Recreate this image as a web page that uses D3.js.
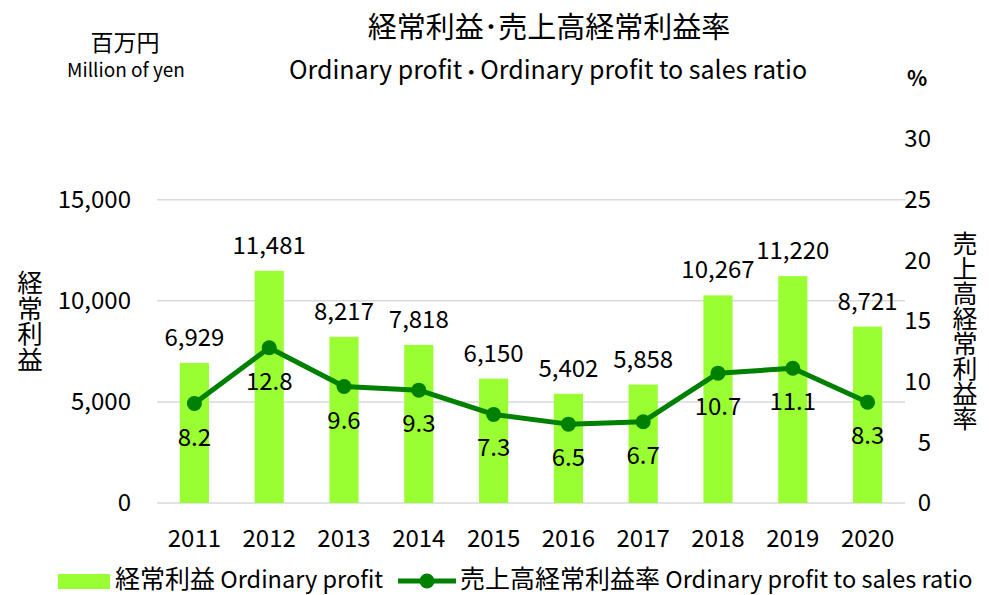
<!DOCTYPE html>
<html>
<head>
<meta charset="utf-8">
<script src="https://cdn.jsdelivr.net/npm/d3@7"></script>
<style>
  body { margin: 0; background: #fff; }
  svg text { font-family: "Noto Sans CJK JP", "Open Sans", sans-serif; fill: #000; }
</style>
</head>
<body>
<div id="chart"></div>
<script>
// data
var years = ['2011','2012','2013','2014','2015','2016','2017','2018','2019','2020']
var profit = [6929, 11481, 8217, 7818, 6150, 5402, 5858, 10267, 11220, 8721]
var ratio = [8.2, 12.8, 9.6, 9.3, 7.3, 6.5, 6.7, 10.7, 11.1, 8.3]
var leftTicks = [0, 5000, 10000, 15000]
var rightTicks = [0, 5, 10, 15, 20, 25, 30]

var W = 989, H = 595
var barClr = '#99ff33', lineClr = '#008000', gridClr = '#d9d9d9'
var numSize = '24px'

var svg = d3.select('#chart').append('svg')
  .attr('width', W).attr('height', H)

var x = d3.scaleBand().domain(years).range([157, 905])
var yL = d3.scaleLinear().domain([0, 18000]).range([503, 139])
var yR = d3.scaleLinear().domain([0, 30]).range([503, 139])
var barW = x.bandwidth() * 0.39
var cx = function(d){ return x(d) + x.bandwidth() / 2 }

// gridlines
svg.append('g').selectAll('line').data(leftTicks).enter().append('line')
  .attr('x1', 157).attr('x2', 905)
  .attr('y1', function(d){ return yL(d) }).attr('y2', function(d){ return yL(d) })
  .style('stroke', gridClr).style('stroke-width', 1.5)

// left ticks
svg.append('g').selectAll('text').data(leftTicks).enter().append('text')
  .attr('x', 131).attr('y', function(d){ return yL(d) })
  .attr('dy', '0.35em').attr('text-anchor', 'end')
  .style('font-size', numSize)
  .text(d3.format(','))

// right ticks
svg.append('g').selectAll('text').data(rightTicks).enter().append('text')
  .attr('x', 931).attr('y', function(d){ return yR(d) })
  .attr('dy', '0.35em').attr('text-anchor', 'end')
  .style('font-size', numSize)
  .text(function(d){ return d })

// bars
svg.append('g').selectAll('rect').data(profit).enter().append('rect')
  .attr('x', function(d, i){ return cx(years[i]) - barW / 2 })
  .attr('y', function(d){ return yL(d) })
  .attr('width', barW)
  .attr('height', function(d){ return yL(0) - yL(d) })
  .style('fill', barClr)

// bar labels
svg.append('g').selectAll('text').data(profit).enter().append('text')
  .attr('x', function(d, i){ return cx(years[i]) })
  .attr('y', function(d){ return yL(d) - 17 })
  .attr('text-anchor', 'middle')
  .style('font-size', numSize)
  .text(d3.format(','))

// ratio line
var line = d3.line()
  .x(function(d, i){ return cx(years[i]) })
  .y(function(d){ return yR(d) })
svg.append('path').datum(ratio)
  .attr('d', line)
  .style('fill', 'none').style('stroke', lineClr).style('stroke-width', 5)
  .style('stroke-linejoin', 'round')

svg.append('g').selectAll('circle').data(ratio).enter().append('circle')
  .attr('cx', function(d, i){ return cx(years[i]) })
  .attr('cy', function(d){ return yR(d) })
  .attr('r', 7.5)
  .style('fill', lineClr)

svg.append('g').selectAll('text').data(ratio).enter().append('text')
  .attr('x', function(d, i){ return cx(years[i]) })
  .attr('y', function(d){ return yR(d) + 42 })
  .attr('text-anchor', 'middle')
  .style('font-size', numSize)
  .text(d3.format('.1f'))

// year labels
svg.append('g').selectAll('text').data(years).enter().append('text')
  .attr('x', function(d){ return cx(d) })
  .attr('y', 547)
  .attr('text-anchor', 'middle')
  .style('font-size', numSize)
  .text(function(d){ return d })

// titles
svg.append('text').attr('x', 549).attr('y', 38).attr('text-anchor', 'middle')
  .style('font-size', '29px').text('経常利益･売上高経常利益率')
var sub = svg.append('text').attr('x', 548).attr('y', 79).attr('text-anchor', 'middle')
  .style('font-size', '25px')
sub.append('tspan').text('Ordinary profit')
sub.append('tspan').style('font-size', '18px').style('font-weight', 'bold').text('・')
sub.append('tspan').text('Ordinary profit to sales ratio')
svg.append('text').attr('x', 125).attr('y', 51).attr('text-anchor', 'middle')
  .style('font-size', '23px').text('百万円')
svg.append('text').attr('x', 126).attr('y', 77).attr('text-anchor', 'middle')
  .style('font-size', '19px').text('Million of yen')
svg.append('text').attr('x', 917).attr('y', 86).attr('text-anchor', 'middle')
  .style('font-size', '21px').style('font-weight', 'bold').text('%')

// vertical axis titles
svg.append('text').attr('x', 30).attr('y', 270)
  .style('writing-mode', 'vertical-rl').style('text-orientation', 'upright')
  .style('font-size', '25.5px').text('経常利益')
svg.append('text').attr('x', 965).attr('y', 231)
  .style('writing-mode', 'vertical-rl').style('text-orientation', 'upright')
  .style('font-size', '25px').text('売上高経常利益率')

// legend
var lg = svg.append('g')
lg.append('rect').attr('x', 58).attr('y', 574).attr('width', 52).attr('height', 15)
  .style('fill', barClr)
var t1 = lg.append('text').attr('x', 115).attr('y', 588)
t1.append('tspan').style('font-size', '25px').text('経常利益')
t1.append('tspan').style('font-size', '23.5px').text(' Ordinary profit')
lg.append('line').attr('x1', 398).attr('x2', 456).attr('y1', 581).attr('y2', 581)
  .style('stroke', lineClr).style('stroke-width', 5)
lg.append('circle').attr('cx', 427).attr('cy', 581).attr('r', 7.5).style('fill', lineClr)
var t2 = lg.append('text').attr('x', 460).attr('y', 588)
t2.append('tspan').style('font-size', '25px').text('売上高経常利益率')
t2.append('tspan').style('font-size', '23.5px').text(' Ordinary profit to sales ratio')
</script>
</body>
</html>
